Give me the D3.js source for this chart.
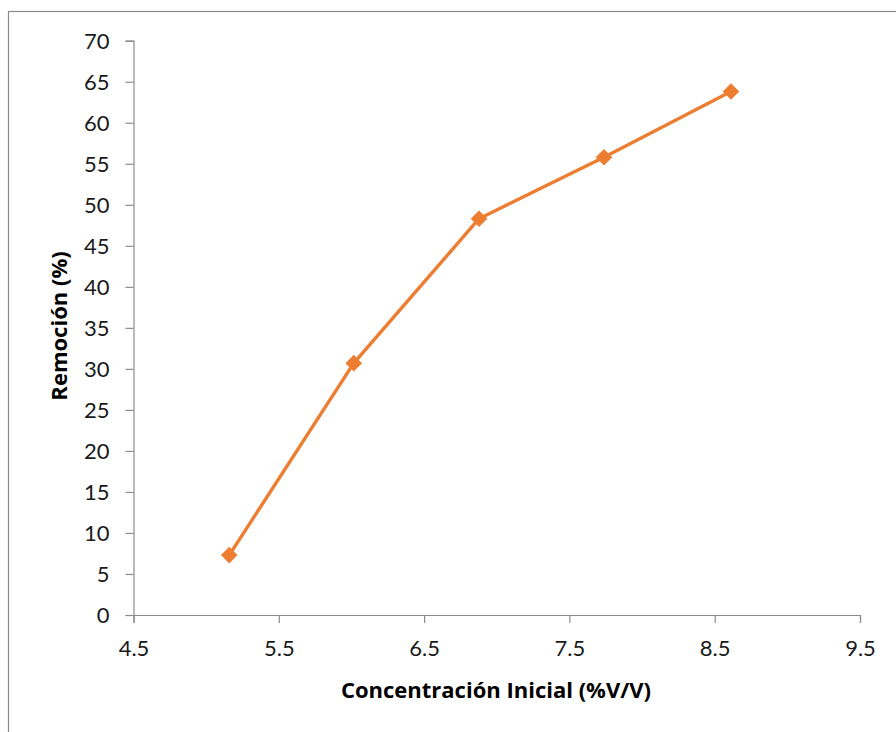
<!DOCTYPE html>
<html>
<head>
<meta charset="utf-8">
<script src="https://cdn.jsdelivr.net/npm/d3@7/dist/d3.min.js"></script>
<style>
html,body{margin:0;padding:0;background:#fff;}
svg{display:block;}
</style>
</head>
<body>
<svg id="chart" width="896" height="732"></svg>
<script>
const concentracion = [5.159, 6.016, 6.878, 7.738, 8.612];
const remocion = [7.3, 30.7, 48.3, 55.8, 63.8];
const xTicks = [4.5, 5.5, 6.5, 7.5, 8.5, 9.5];
const yTicks = [0, 5, 10, 15, 20, 25, 30, 35, 40, 45, 50, 55, 60, 65, 70];
const xTitle = "Concentración Inicial (%V/V)";
const yTitle = "Remoción (%)";

const svg = d3.select("#chart");
const font = "Lato, 'Open Sans', sans-serif";
const titleFont = "'Open Sans', Lato, sans-serif";
const orange = "#ED7D31";
const axisColor = "#8c8c8c";

// chart frame
svg.append("rect").attr("x", 8.5).attr("y", 11.5).attr("width", 900).attr("height", 740)
  .attr("fill", "none").attr("stroke", "#8a8a8a").attr("stroke-width", 1.2);

const x = d3.scaleLinear().domain([4.5, 9.5]).range([133.5, 860]);
const y = d3.scaleLinear().domain([0, 70]).range([615, 40.7]);

const xAxis = svg.append("g").attr("transform", `translate(0,${y(0)})`)
  .call(d3.axisBottom(x).tickValues(xTicks).tickFormat(d3.format(".1f")).tickSize(8).tickPadding(17));
const yAxis = svg.append("g").attr("transform", `translate(${x(4.5)},0)`)
  .call(d3.axisLeft(y).tickValues(yTicks).tickFormat(d3.format("d")).tickSize(8).tickPadding(16));

[xAxis, yAxis].forEach(g => {
  g.select(".domain").attr("stroke", axisColor).attr("stroke-width", 1.2);
  g.selectAll(".tick line").attr("stroke", axisColor).attr("stroke-width", 1.2);
  g.selectAll(".tick text").attr("fill", "#1a1a1a").style("font-family", font).style("font-size", "22px");
});
yAxis.selectAll(".tick text").attr("dy", "0.35em");

const pts = concentracion.map((c, i) => [c, remocion[i]]);
svg.append("path").datum(pts)
  .attr("fill", "none").attr("stroke", orange).attr("stroke-width", 3.4)
  .attr("stroke-linejoin", "round")
  .attr("d", d3.line().x(d => x(d[0])).y(d => y(d[1])));

svg.selectAll("path.marker").data(pts).join("path")
  .attr("class", "marker")
  .attr("transform", d => `translate(${x(d[0])},${y(d[1])})`)
  .attr("d", d3.symbol().type(d3.symbolDiamond2).size(175))
  .attr("fill", orange);

svg.append("text").attr("x", 496).attr("y", 698)
  .attr("text-anchor", "middle").style("font-family", titleFont).style("font-size", "22px")
  .style("font-weight", "bold").attr("fill", "#000").text(xTitle);

svg.append("text").attr("transform", "translate(67,326) rotate(-90)")
  .attr("text-anchor", "middle").style("font-family", titleFont).style("font-size", "22px")
  .style("font-weight", "bold").attr("fill", "#000").text(yTitle);
</script>
</body>
</html>
